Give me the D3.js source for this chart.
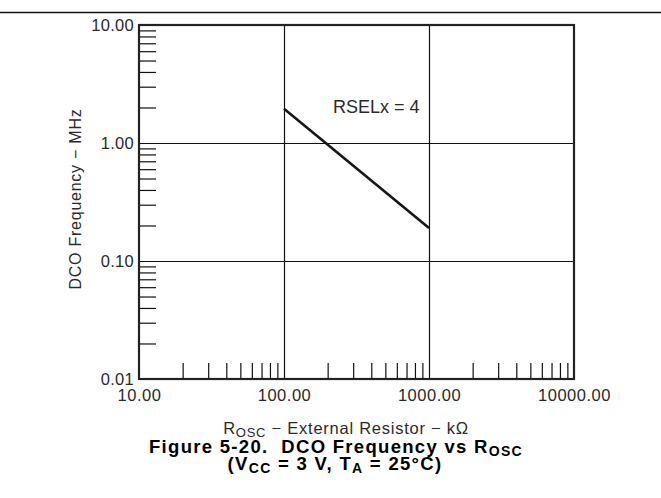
<!DOCTYPE html>
<html>
<head>
<meta charset="utf-8">
<script src="https://cdn.jsdelivr.net/npm/d3@7"></script>
<style>
  body { margin: 0; background: #fff; }
  svg { display: block; font-family: "Liberation Sans", Arial, sans-serif; }
  .domain { display: none; }
</style>
</head>
<body>
<svg id="chart" width="661" height="498"></svg>
<script>
// chart values
var xTicks = [10, 100, 1000, 10000];
var yTicks = [0.01, 0.1, 1, 10];
var rosc = [100, 1000];          // kOhm
var freq = [1.95, 0.19];         // MHz
var curveLabel = "RSELx = 4";

// plot box (window.top is reserved, so no plain "top")
var pL = 139, pR = 574, pT = 25, pB = 379;

var svg = d3.select('#chart');

var x = d3.scaleLog().domain([10, 10000]).range([pL, pR]);
var y = d3.scaleLog().domain([0.01, 10]).range([pB, pT]);

// minor tick positions, 2..9 of each decade
function minors(lo, hi) {
  var out = [];
  for (var d = lo; d < hi * 0.999; d *= 10) {
    for (var k = 2; k <= 9; k++) out.push(d * k);
  }
  return out;
}

// rule across top of page
svg.append('line')
  .attr('x1', 0).attr('x2', 661)
  .attr('y1', 12.5).attr('y2', 12.5)
  .attr('stroke', '#111').attr('stroke-width', 1.3);

// grid lines
svg.append('g')
  .attr('transform', 'translate(0,' + pB + ')')
  .call(d3.axisBottom(x).tickValues([100, 1000]).tickSize(-(pB - pT)).tickFormat(''))
  .selectAll('line').attr('stroke', '#111').attr('stroke-width', 1.2);

svg.append('g')
  .attr('transform', 'translate(' + pL + ',0)')
  .call(d3.axisLeft(y).tickValues([0.1, 1]).tickSize(-(pR - pL)).tickFormat(''))
  .selectAll('line').attr('stroke', '#111').attr('stroke-width', 1.2);

// minor ticks inside the frame
svg.append('g')
  .attr('transform', 'translate(0,' + pB + ')')
  .call(d3.axisBottom(x).tickValues(minors(10, 10000)).tickSize(-16).tickFormat(''))
  .selectAll('line').attr('stroke', '#111').attr('stroke-width', 1.2);

svg.append('g')
  .attr('transform', 'translate(' + pL + ',0)')
  .call(d3.axisLeft(y).tickValues(minors(0.01, 10)).tickSize(-17).tickFormat(''))
  .selectAll('line').attr('stroke', '#111').attr('stroke-width', 1.2);

// tick labels
var xAxis = svg.append('g')
  .attr('transform', 'translate(0,' + pB + ')')
  .call(d3.axisBottom(x).tickValues(xTicks).tickSize(0).tickPadding(10).tickFormat(d3.format('.2f')));
xAxis.selectAll('text')
  .attr('font-size', 16.5).attr('letter-spacing', 0.5).attr('fill', '#2a2a2a')
  .attr('font-family', '"Liberation Sans", Arial, sans-serif');

var yAxis = svg.append('g')
  .attr('transform', 'translate(' + pL + ',0)')
  .call(d3.axisLeft(y).tickValues(yTicks).tickSize(0).tickPadding(5).tickFormat(d3.format('.2f')));
yAxis.selectAll('text')
  .attr('font-size', 16.5).attr('letter-spacing', 0.3).attr('fill', '#2a2a2a')
  .attr('font-family', '"Liberation Sans", Arial, sans-serif');

// frame
svg.append('rect')
  .attr('x', pL).attr('y', pT)
  .attr('width', pR - pL).attr('height', pB - pT)
  .attr('fill', 'none').attr('stroke', '#222').attr('stroke-width', 2.2);

// the curve
var line = d3.line()
  .x(function(d, i) { return x(rosc[i]); })
  .y(function(d) { return y(d); });

svg.append('path')
  .datum(freq)
  .attr('d', line)
  .attr('fill', 'none')
  .attr('stroke', '#161616')
  .attr('stroke-width', 2.6);

svg.append('text')
  .attr('x', 333).attr('y', 113)
  .attr('font-size', 18).attr('fill', '#2a2a2a')
  .text(curveLabel);

// axis titles
svg.append('text')
  .attr('transform', 'translate(81,199) rotate(-90)')
  .attr('text-anchor', 'middle')
  .attr('font-size', 16).attr('letter-spacing', 0.75).attr('fill', '#2a2a2a')
  .text('DCO Frequency \u2212 MHz');

var xt = svg.append('text')
  .attr('x', 346).attr('y', 434)
  .attr('text-anchor', 'middle')
  .attr('font-size', 16.5).attr('letter-spacing', 0.75).attr('fill', '#2a2a2a');
xt.append('tspan').text('R');
xt.append('tspan').attr('font-size', 13).attr('dy', 2.5).text('OSC');
xt.append('tspan').attr('dy', -2.5).text(' \u2212 External Resistor \u2212 k\u03A9');

// figure caption
var c1 = svg.append('text')
  .attr('x', 336).attr('y', 453)
  .attr('text-anchor', 'middle')
  .attr('font-size', 18.5).attr('letter-spacing', 1.3)
  .attr('font-weight', 'bold').attr('fill', '#000');
c1.append('tspan').text('Figure 5-20.\u00A0\u00A0DCO Frequency vs R');
c1.append('tspan').attr('font-size', 14).attr('dy', 3).text('OSC');

var c2 = svg.append('text')
  .attr('x', 335).attr('y', 470)
  .attr('text-anchor', 'middle')
  .attr('font-size', 18.5).attr('letter-spacing', 1.3)
  .attr('font-weight', 'bold').attr('fill', '#000');
c2.append('tspan').text('(V');
c2.append('tspan').attr('font-size', 14).attr('dy', 3).text('CC');
c2.append('tspan').attr('dy', -3).text(' = 3 V, T');
c2.append('tspan').attr('font-size', 14).attr('dy', 3).text('A');
c2.append('tspan').attr('dy', -3).text(' = 25\u00B0C)');
</script>
</body>
</html>
